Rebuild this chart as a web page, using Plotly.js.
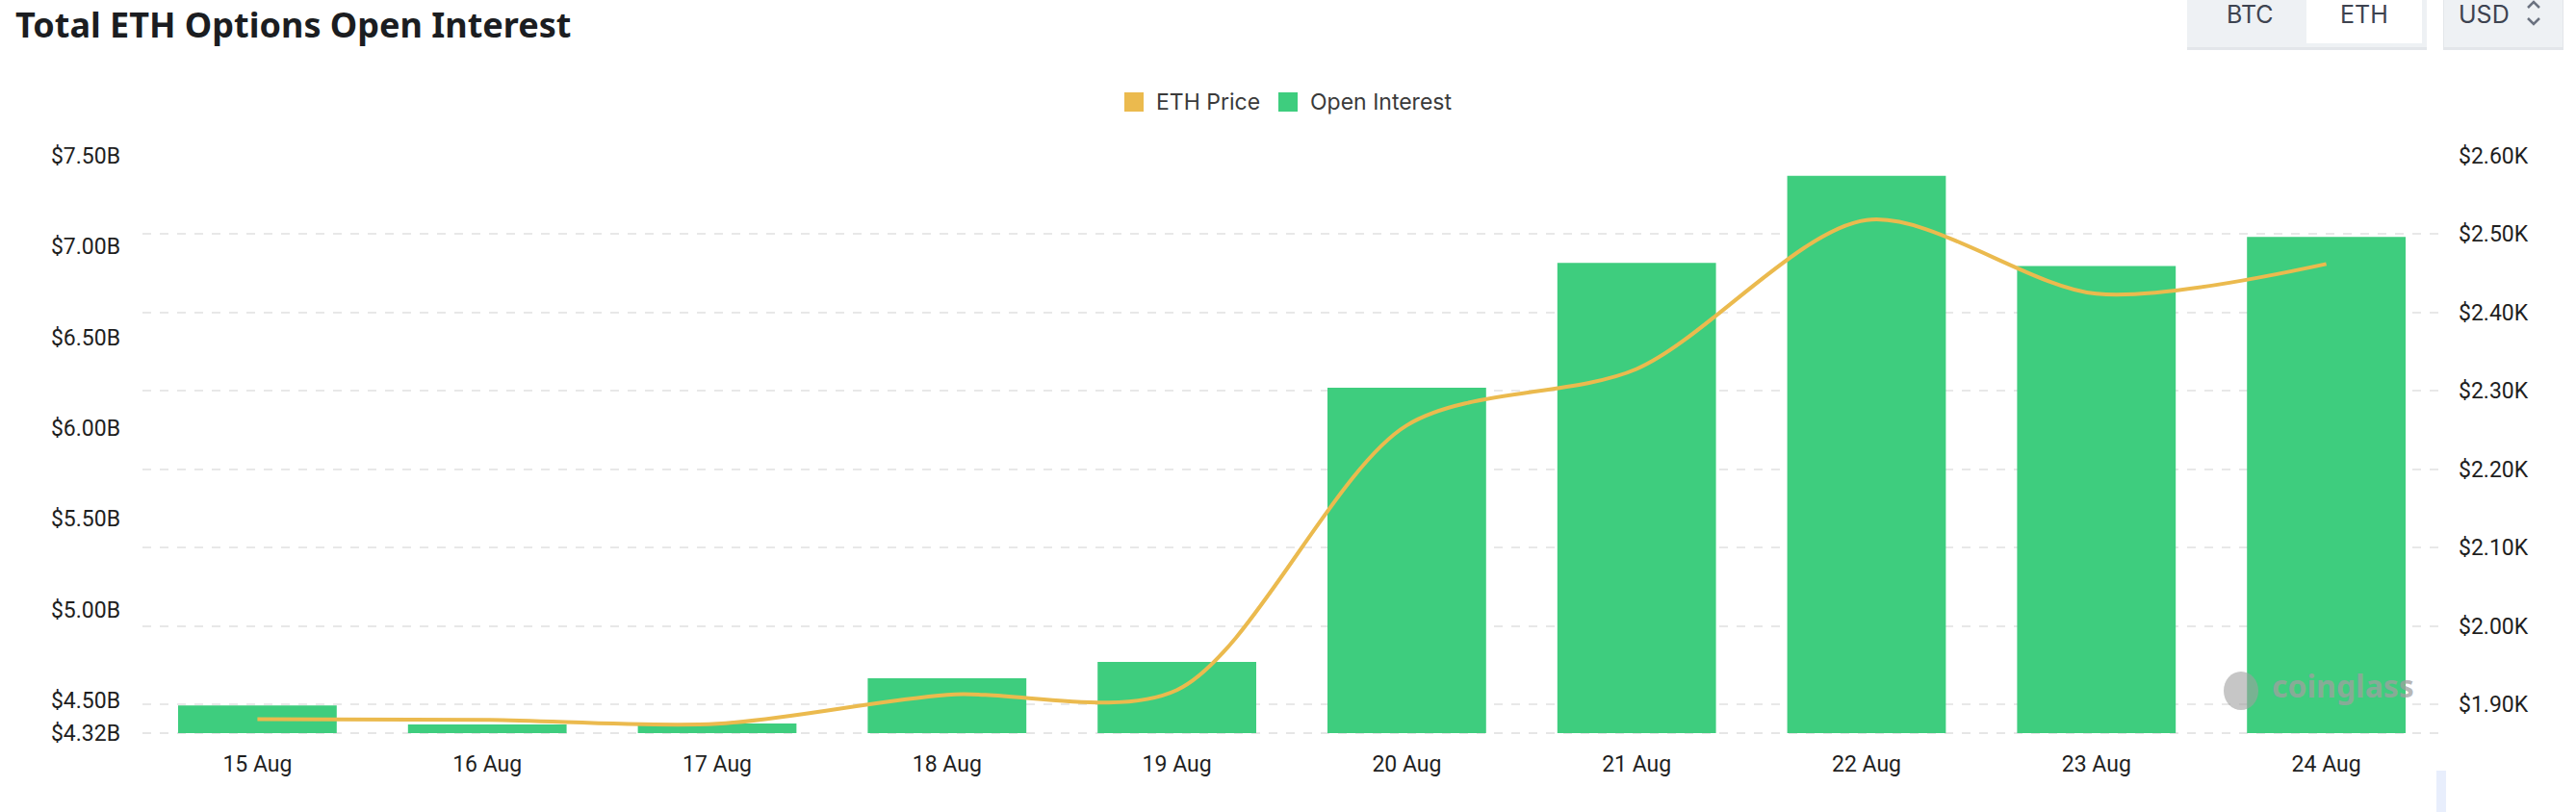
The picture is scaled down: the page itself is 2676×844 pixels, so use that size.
<!DOCTYPE html>
<html>
<head>
<meta charset="utf-8">
<script src="https://cdn.plot.ly/plotly-3.0.1.min.js"></script>
<style>
  html, body { margin:0; padding:0; background:#fff; }
  #chart { width:2676px; height:844px; }
</style>
</head>
<body>
<div id="chart"></div>
<script>
// ---- data ----
const dates = ["15 Aug","16 Aug","17 Aug","18 Aug","19 Aug","20 Aug","21 Aug","22 Aug","23 Aug","24 Aug"];
const openInterestB = [4.472, 4.368, 4.373, 4.622, 4.712, 6.223, 6.911, 7.390, 6.893, 7.054];
const ethPriceK = [1.881, 1.880, 1.875, 1.912, 1.918, 2.256, 2.328, 2.518, 2.424, 2.462];
const leftTicks = [4.32, 4.5, 5.0, 5.5, 6.0, 6.5, 7.0, 7.5];
const leftTickText = ["$4.32B","$4.50B","$5.00B","$5.50B","$6.00B","$6.50B","$7.00B","$7.50B"];
const rightTicks = [1.9, 2.0, 2.1, 2.2, 2.3, 2.4, 2.5, 2.6];
const rightTickText = ["$1.90K","$2.00K","$2.10K","$2.20K","$2.30K","$2.40K","$2.50K","$2.60K"];

// ---- geometry ----
const W = 2676, H = 844;
const M = { l:148, r:140, t:162, b:82 };
const pw = W - M.l - M.r, ph = H - M.t - M.b;
const px = x => (x - M.l) / pw;
const py = y => 1 - (y - M.t) / ph;

const GREEN = "#3ecd7e", ORANGE = "#ebba4e";
const tickFont = { family: "Roboto, 'Liberation Sans', sans-serif", size: 23, color: "#1f1f1f" };

const traces = [
  {
    type: "bar", x: dates, y: openInterestB, name: "Open Interest",
    marker: { color: GREEN }, width: 0.69, yaxis: "y", hoverinfo: "x+y"
  },
  {
    type: "scatter", mode: "lines", x: dates, y: ethPriceK, name: "ETH Price",
    line: { color: ORANGE, width: 4, shape: "spline", smoothing: 0.85 }, yaxis: "y2"
  }
];

const shapes = [];
const annotations = [];

// bottom dashed baseline
shapes.push({ type:"line", xref:"paper", yref:"paper", x0:0, x1:1, y0:0, y1:0,
  line:{ color:"#e6e6e6", width:2, dash:"dash" }, layer:"below" });

// legend
function legendItem(x, color, label) {
  shapes.push({ type:"rect", xref:"paper", yref:"paper",
    x0:px(x), x1:px(x+20), y0:py(116), y1:py(96), fillcolor:color, line:{width:0} });
  annotations.push({ xref:"paper", yref:"paper", x:px(x+31), y:py(106), xanchor:"left", yanchor:"middle",
    text:label, showarrow:false, font:{ family:"Inter, 'Noto Sans', sans-serif", size:23, color:"#3a3a3a" } });
}
legendItem(1168, ORANGE, "ETH Price");
legendItem(1328, GREEN, "Open Interest");

// title
annotations.push({ xref:"paper", yref:"paper", x:px(14), y:py(25), xanchor:"left", yanchor:"middle",
  text:"<b>Total ETH Options Open Interest</b>", showarrow:false,
  font:{ family:"'Noto Sans', 'Open Sans', sans-serif", size:36, color:"#1b1d21" } });

// BTC / ETH toggle
shapes.push({ type:"rect", xref:"paper", yref:"paper", x0:px(2272), x1:px(2521), y0:py(52), y1:py(-20),
  fillcolor:"#e3e6ea", line:{width:0} });
shapes.push({ type:"rect", xref:"paper", yref:"paper", x0:px(2272), x1:px(2521), y0:py(49), y1:py(-20),
  fillcolor:"#eef1f4", line:{width:0} });
shapes.push({ type:"rect", xref:"paper", yref:"paper", x0:px(2396), x1:px(2516), y0:py(45), y1:py(-20),
  fillcolor:"#ffffff", line:{width:0} });
shapes.push({ type:"rect", xref:"paper", yref:"paper", x0:px(2538), x1:px(2663), y0:py(52), y1:py(-20),
  fillcolor:"#e3e6ea", line:{width:0} });
shapes.push({ type:"rect", xref:"paper", yref:"paper", x0:px(2539), x1:px(2662), y0:py(49), y1:py(-20),
  fillcolor:"#eef1f4", line:{width:0} });
const btnFont = { family:"Inter, 'Noto Sans', sans-serif", size:25, color:"#3d4350" };
annotations.push({ xref:"paper", yref:"paper", x:px(2337), y:py(15), xanchor:"center", yanchor:"middle",
  text:"BTC", showarrow:false, font:btnFont });
annotations.push({ xref:"paper", yref:"paper", x:px(2456), y:py(15), xanchor:"center", yanchor:"middle",
  text:"ETH", showarrow:false, font:btnFont });
annotations.push({ xref:"paper", yref:"paper", x:px(2580), y:py(15), xanchor:"center", yanchor:"middle",
  text:"USD", showarrow:false, font:btnFont });
// up/down chevrons
shapes.push({ type:"path", xref:"paper", yref:"paper",
  path:`M${px(2626)},${py(8)} L${px(2632)},${py(2)} L${px(2638)},${py(8)}`,
  line:{ color:"#6b7280", width:2.5 } });
shapes.push({ type:"path", xref:"paper", yref:"paper",
  path:`M${px(2626)},${py(19)} L${px(2632)},${py(25)} L${px(2638)},${py(19)}`,
  line:{ color:"#6b7280", width:2.5 } });

// watermark
annotations.push({ xref:"paper", yref:"paper", x:px(2358), y:py(712), xanchor:"left", yanchor:"middle",
  text:"<b>coinglass</b>", showarrow:false,
  font:{ family:"'Noto Sans', sans-serif", size:32, color:"rgba(160,160,160,0.75)" } });
shapes.push({ type:"circle", xref:"paper", yref:"paper", x0:px(2310), x1:px(2346), y0:py(738), y1:py(698),
  fillcolor:"rgba(160,160,160,0.6)", line:{width:0} });

// data zoom handle fragment
shapes.push({ type:"rect", xref:"paper", yref:"paper", x0:px(2531), x1:px(2541), y0:py(850), y1:py(801),
  fillcolor:"#e8eefc", line:{width:0} });

const layout = {
  width: W, height: H,
  margin: M,
  paper_bgcolor: "#ffffff", plot_bgcolor: "#ffffff",
  showlegend: false,
  bargap: 0.31,
  font: tickFont,
  xaxis: {
    type: "category", tickfont: tickFont, showgrid: false, zeroline: false,
    showline: false, ticks: "", ticklabelstandoff: 16, fixedrange: true
  },
  yaxis: {
    range: [4.32, 7.5], tickvals: leftTicks, ticktext: leftTickText, tickfont: tickFont,
    showgrid: false, zeroline: false, showline: false, ticks: "", ticklabelstandoff: 22
  },
  yaxis2: {
    overlaying: "y", side: "right",
    range: [1.8631, 2.6], tickvals: rightTicks, ticktext: rightTickText, tickfont: tickFont,
    showgrid: true, gridcolor: "#e8e8e8", gridwidth: 2, griddash: "dash",
    zeroline: false, showline: false, ticks: "", ticklabelstandoff: 17
  },
  shapes: shapes,
  annotations: annotations
};

Plotly.newPlot("chart", traces, layout, { displayModeBar: false, staticPlot: true });
</script>
</body>
</html>
